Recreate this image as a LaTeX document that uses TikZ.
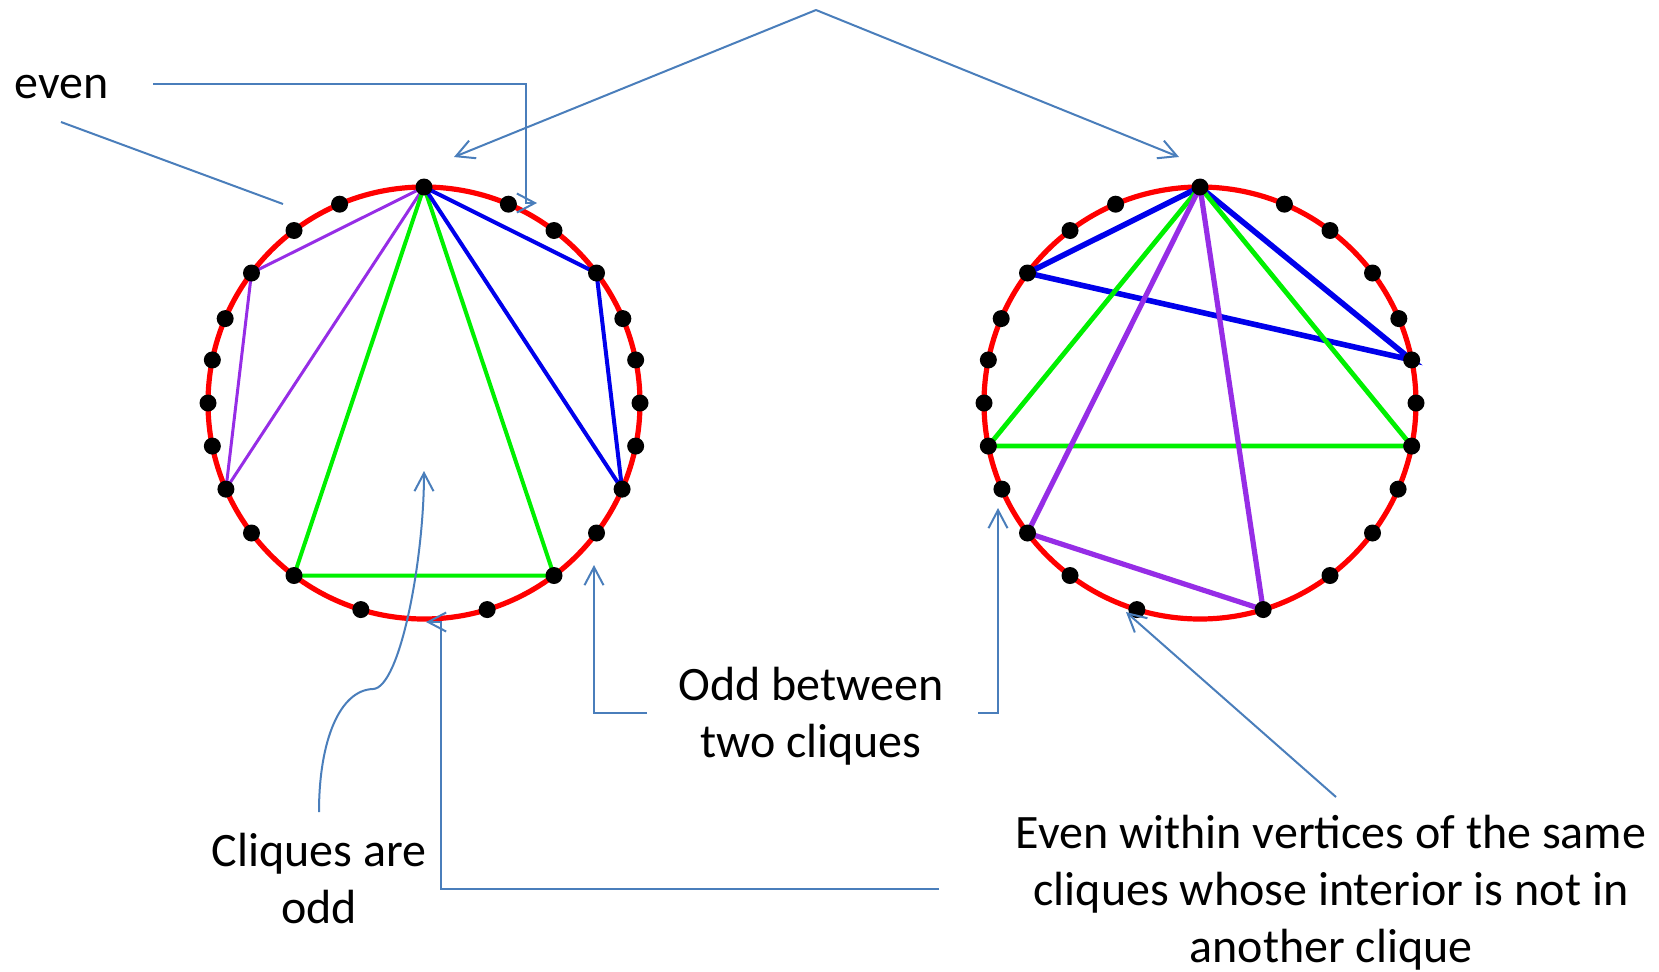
\documentclass[tikz,border=0pt]{standalone}
\usepackage{fontspec}
\setmainfont{Carlito}
\usetikzlibrary{arrows.meta}

\definecolor{linkblue}{RGB}{74,126,187}
\definecolor{cliquegreen}{RGB}{0,240,0}
\definecolor{cliqueblue}{RGB}{0,0,235}
\definecolor{cliquepurple}{RGB}{150,45,230}

\begin{document}
\begin{tikzpicture}[x=0.5pt, y=-0.5pt,
    callout/.style={linkblue, line width=1pt, -{Straight Barb[length=9pt,width=9.5pt]}},
    txt/.style={font=\fontsize{24pt}{28.5pt}\selectfont, align=center, inner sep=0pt, anchor=base},
    rim/.style={red, line width=2.6pt}]
    \useasboundingbox (0,0) rectangle (1659,971);

    % Circle centres
    \coordinate (lc) at (424,403);
    \coordinate (rc) at (1200,403);

    % Vertices on both circles (angle counted counter-clockwise from the right)
    \foreach \a [count=\i] in {90,113,127,143,157,168.5,180,191.5,203.5,217,233,253,287,307,323,336.5,348.5,0,11.5,23,37,53,67} {
        \path (lc) ++(-\a:216) coordinate (L\i);
        \path (rc) ++(-\a:216) coordinate (R\i);
    }

    % Rims
    \draw[rim] (lc) circle[radius=216];
    \draw[rim] (rc) circle[radius=216];

    % Cliques, left circle
    \draw[cliquepurple, line width=1.5pt] (L1) -- (L4) -- (L9) -- cycle;
    \draw[cliquegreen, line width=2pt] (L1) -- (L11) -- (L14) -- cycle;
    \draw[cliqueblue, line width=2pt] (L1) -- (L21) -- (L16) -- cycle;

    % Cliques, right circle
    \draw[cliqueblue, line width=2.8pt] (R1) -- (R4) -- (R19) -- cycle;
    \draw[cliquegreen, line width=2.4pt] (R1) -- (R8) -- (R17) -- cycle;
    \draw[cliquepurple, line width=2.6pt] (R1) -- (R10) -- (R13) -- cycle;

    % Vertices
    \foreach \i in {1,...,23} {
        \fill (L\i) circle[radius=8.5];
        \fill (R\i) circle[radius=8.5];
    }

    % Labels
    \node[txt, anchor=base west] (even) at (14,98) {even};
    \node[txt] (oddbetween) at (811,757) {Odd between\\two cliques};
    \node[txt] (cliquesodd) at (319,923) {Cliques are\\odd};
    \node[txt] (evenwithin) at (1331,962) {Even within vertices of the same\\cliques whose interior is not in\\another clique};

    % Connector ends
    \coordinate (apex) at (816,10);
    \coordinate (topl) at (454,157);
    \coordinate (topr) at (1179,157);
    \coordinate (evenstart) at (153,84);
    \coordinate (evenbend) at (526,203);
    \coordinate (evenend) at (537,203);
    \coordinate (evenline) at (61,122);
    \coordinate (evenrim) at (283,204);
    \coordinate (cliquestail) at (319,812);
    \coordinate (cliqueshead) at (424,471);
    \coordinate (oddl) at (647,713);
    \coordinate (oddltip) at (594,565);
    \coordinate (oddr) at (978,713);
    \coordinate (oddrtip) at (998,508);
    \coordinate (ewstart) at (939,889);
    \coordinate (ewbend) at (441,622);
    \coordinate (ewtip) at (426,622);
    \coordinate (ewline) at (1336,797);
    \coordinate (ewrim) at (1126,612);

    % Top callout to both circles
    \draw[callout] (apex) -- (topl);
    \draw[callout] (apex) -- (topr);

    % even
    \draw[callout] (evenstart) -| (evenbend) -- (evenend);
    \draw[linkblue, line width=1pt] (evenline) -- (evenrim);

    % Cliques are odd
    \draw[callout] (cliquestail) .. controls (319,740) and (340,690) .. (373,689)
        .. controls (400,688) and (424,560) .. (cliqueshead);

    % Odd between two cliques
    \draw[callout] (oddl) -| (oddltip);
    \draw[callout] (oddr) -| (oddrtip);

    % Even within vertices of the same cliques
    \draw[callout] (ewstart) -| (ewbend) -- (ewtip);
    \draw[callout] (ewline) -- (ewrim);
\end{tikzpicture}
\end{document}
